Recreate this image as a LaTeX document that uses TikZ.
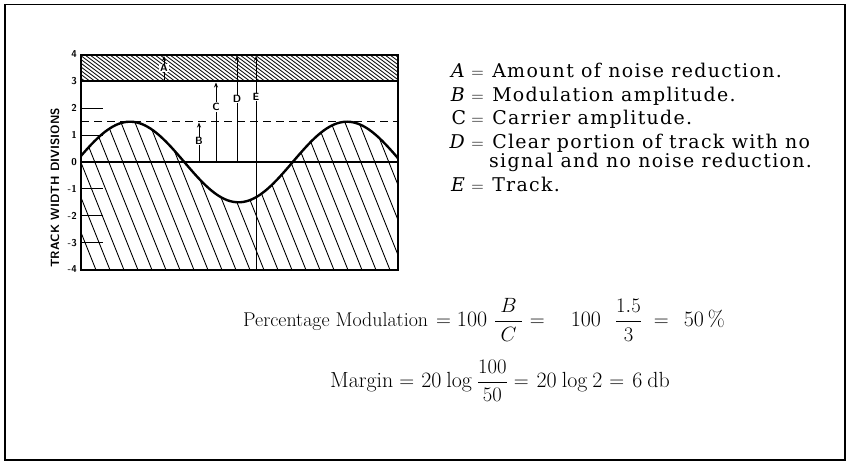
\documentclass[tikz,border=0pt]{standalone}
\usepackage{fontspec}
\usepackage{amsmath}
\usetikzlibrary{arrows.meta}
\newfontfamily\legfont{DejaVu Serif}[LetterSpace=7]
\newcommand{\legsym}[1]{\makebox[0pt][r]{#1}\;$=$\;\,}
\newcommand{\hs}[1]{\hspace{#1bp}}
\tikzset{
  outerframe/.style={line width=1.8bp},
  boxline/.style={line width=1.8bp},
  hatchline/.style={line width=0.9bp},
  bandhatch/.style={line width=0.8bp},
  dimline/.style={line width=1bp, -{Stealth[length=5bp,width=4bp]}},
  letterlab/.style={font=\sffamily\bfseries\fontsize{10.5}{10.5}\selectfont, fill=white, inner sep=0.8bp},
  ticklab/.style={font=\sffamily\bfseries\fontsize{10}{10}\selectfont, anchor=east, inner sep=0},
  legendtxt/.style={anchor=base west, inner sep=0, font=\legfont\fontsize{19}{20}\selectfont},
  formulatxt/.style={anchor=west, inner sep=0, font=\fontsize{20}{23}\selectfont},
  formulabig/.style={anchor=west, inner sep=0, font=\fontsize{22}{25}\selectfont},
}
\begin{document}
\begin{tikzpicture}[x=1bp,y=-1bp]
\useasboundingbox (0,0) rectangle (848,463);
\draw[outerframe] (5,4.5) rectangle (845,460);
% top band hatch
\begin{scope}
\clip (81,55) rectangle (398,81.4);
\foreach \i in {40,45,...,400} \draw[bandhatch] (\i,55) -- ++(36,27);
\end{scope}
% lower hatch under the curve
\begin{scope}
\clip plot[domain=81:398,samples=120] (\x,{162-40.3*sin(1.65899*(\x-75.75))}) -- (398,270) -- (81,270) -- cycle;
\foreach \i in {-10,4,...,400} \draw[hatchline] (\i,110) -- ++(64,160);
\end{scope}
% curve and lines
\draw[line width=2.4bp] plot[domain=81:398,samples=120] (\x,{162-40.3*sin(1.65899*(\x-75.75))});
\draw[line width=1.4bp] (81,162) -- (398,162);
\draw[boxline] (81,81.4) -- (398,81.4);
\draw[line width=1bp, dash pattern=on 8bp off 5bp] (81,121.7) -- (398,121.7);
\draw[boxline] (81,55) rectangle (398,270);
\foreach \v in {2,1,-1,-2,-3} \draw[line width=1.2bp] (81,{162-26.875*\v}) -- ++(22,0);
\foreach \v in {4,3,2,1,0,-1,-2,-3,-4} \node[ticklab] (tick\v) at (77,{162-26.875*\v}) {\v};
\node[rotate=90, font=\sffamily\bfseries\fontsize{12}{12}\selectfont] (ytitle) at (55,188) {TRACK WIDTH DIVISIONS};
% dimension lines
\coordinate (a0) at (164,81.4); \coordinate (a1) at (164,56);
\coordinate (b0) at (199,162); \coordinate (b1) at (199,122.5);
\coordinate (c0) at (216,162); \coordinate (c1) at (216,82.5);
\coordinate (d0) at (237,162); \coordinate (d1) at (237,56);
\coordinate (e0) at (256,270); \coordinate (e1) at (256,56);
\draw[dimline] (a0) -- (a1);
\draw[dimline] (b0) -- (b1);
\draw[dimline] (c0) -- (c1);
\draw[dimline] (d0) -- (d1);
\draw[dimline] (e0) -- (e1);
\node[letterlab] (labA) at (164,68) {A};
\node[letterlab] (labB) at (199,141) {B};
\node[letterlab] (labC) at (216,107) {C};
\node[letterlab] (labD) at (237,99) {D};
\node[letterlab] (labE) at (256,97) {E};
% legend
\node[legendtxt] (legA) at (466,78) {\legsym{\textit{A}}Amount of noise reduction.};
\node[legendtxt] (legB) at (466,101.5) {\legsym{\textit{B}}Modulation amplitude.};
\node[legendtxt] (legC) at (466,125) {\legsym{C}Carrier amplitude.};
\node[legendtxt] (legD) at (466,148.5) {\legsym{\textit{D}}Clear portion of track with no};
\node[legendtxt] (legD2) at (489,168) {signal and no noise reduction.};
\node[legendtxt] (legE) at (466,192) {\legsym{\textit{E}}Track.};
% formulas
\node[formulatxt] (f1) at (243,320) {Percentage Modulation\hs{8}{\fontsize{22}{25}\selectfont$=$\hs{6}100\hs{7}$\dfrac{\hs{5}B\hs{5}}{C}$\hs{7}$=$\hs{26}100\hs{14}$\dfrac{1.5}{3}$\hs{12}$=$\hs{15}50\hs{4}\%}};
\node[formulabig] (f2) at (330,381) {Margin\hs{6}$=$\hs{7}20\hs{5}log\hs{5}$\dfrac{100}{50}$\hs{6}$=$\hs{8}20\hs{5}log\hs{5}2\hs{7}$=$\hs{8}6\hs{5}db};
\end{tikzpicture}
\end{document}
